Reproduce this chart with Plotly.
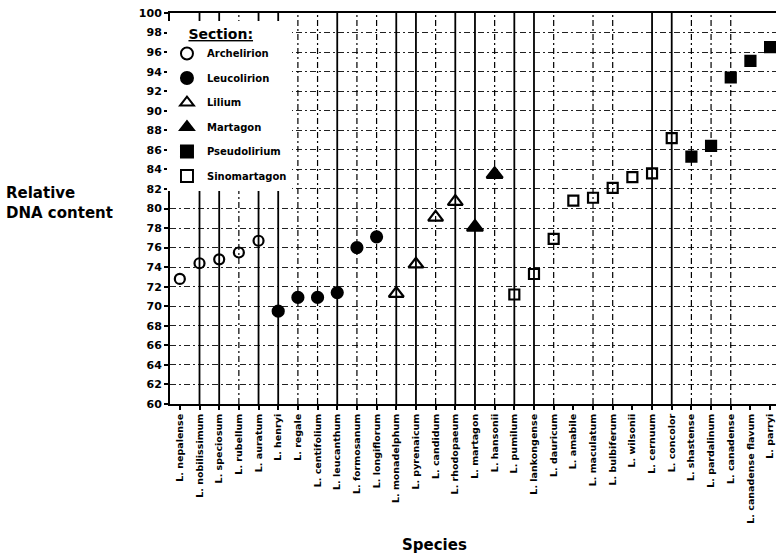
import plotly.graph_objects as go

species = ["L. nepalense", "L. nobilissimum", "L. speciosum", "L. rubellum", "L. auratum",
           "L. henryi", "L. regale", "L. centifolium", "L. leucanthum", "L. formosanum",
           "L. longiflorum", "L. monadelphum", "L. pyrenaicum", "L. candidum", "L. rhodopaeum",
           "L. martagon", "L. hansonii", "L. pumilum", "L. lankongense", "L. dauricum",
           "L. amabile", "L. maculatum", "L. bulbiferum", "L. wilsonii", "L. cernuum",
           "L. concolor", "L. shastense", "L. pardalinum", "L. canadense", "L. canadense flavum",
           "L. parryi"]
dna = [72.8, 74.4, 74.8, 75.5, 76.7,
       69.5, 70.9, 70.9, 71.4, 76.0,
       77.1, 71.3, 74.3, 79.1, 80.7,
       78.1, 83.5, 71.2, 73.3, 76.9,
       80.8, 81.1, 82.1, 83.2, 83.6,
       87.2, 85.3, 86.4, 93.4, 95.1,
       96.5]
section = (["Archelirion"] * 5 + ["Leucolirion"] * 6 + ["Lilium"] * 4 + ["Martagon"] * 2
           + ["Sinomartagon"] * 9 + ["Pseudolirium"] * 5)
sections = ["Archelirion", "Leucolirion", "Lilium", "Martagon", "Pseudolirium", "Sinomartagon"]
y_ticks = list(range(60, 101, 2))

# style of the vertical guide line at each species
vline_style = ["none", "solid", "solid", "dash", "solid",
               "solid", "dash", "dash", "solid", "dash",
               "dash", "solid", "solid", "dash", "solid",
               "solid", "dash", "solid", "solid", "dash",
               "none", "dash", "dash", "none", "solid",
               "solid", "dash", "dash", "dash", "none",
               "none"]
symbols = {"Archelirion": "circle-open", "Leucolirion": "circle", "Lilium": "triangle-up-open",
           "Martagon": "triangle-up", "Pseudolirium": "square", "Sinomartagon": "square-open"}
sizes = {"Archelirion": 10, "Leucolirion": 11, "Lilium": 13, "Martagon": 14,
         "Pseudolirium": 10, "Sinomartagon": 10}

BOLD = "DejaVu Sans"
fig = go.Figure()

for style, dash in [("solid", "solid"), ("dash", "6px,3px,2px,3px")]:
    xs, ys = [], []
    for sp, st in zip(species, vline_style):
        if st == style:
            xs += [sp, sp, None]
            ys += [y_ticks[0], y_ticks[-1], None]
    fig.add_trace(go.Scatter(x=xs, y=ys, mode="lines", showlegend=False, hoverinfo="skip",
                             line=dict(color="black", width=1.8 if style == "solid" else 1.2, dash=dash)))

for sec in sections:
    xs = [s for s, g in zip(species, section) if g == sec]
    ys = [v for v, g in zip(dna, section) if g == sec]
    fig.add_trace(go.Scatter(x=xs, y=ys, mode="markers", name=sec, legendgroup=sec,
                             marker=dict(symbol=symbols[sec], size=sizes[sec], color="black",
                                         line=dict(color="black", width=2.2))))

fig.update_layout(
    width=776, height=557,
    margin=dict(l=170, r=0, t=13, b=153, autoexpand=False),
    paper_bgcolor="white", plot_bgcolor="white",
    font=dict(family=BOLD, color="black"),
    showlegend=True,
    legend=dict(x=-0.005, y=0.98, xanchor="left", yanchor="top", bgcolor="white",
                borderwidth=0, tracegroupgap=5.5, itemsizing="constant",
                font=dict(family=BOLD, size=10, weight="bold", color="black"),
                title=dict(text="\u00a0\u00a0\u00a0\u00a0<u>Section:</u>",
                           font=dict(family=BOLD, size=14, weight="bold", color="black"))),
    xaxis=dict(type="category", categoryorder="array", categoryarray=species, automargin=False,
               range=[-0.5, 30.3], showgrid=False, showline=True, linecolor="black", linewidth=2,
               mirror=True, ticks="outside", ticklen=4, tickcolor="black", tickwidth=1.5,
               tickangle=-90, tickfont=dict(family=BOLD, size=9.5, weight="bold", color="black"),
               zeroline=False),
    yaxis=dict(range=[60, 100], tickvals=y_ticks, showgrid=True, gridcolor="#222", gridwidth=1,
               automargin=False,
               griddash="6px,3px,2px,3px", showline=True, linecolor="black", linewidth=2,
               ticks="outside", ticklen=4, tickcolor="black", tickwidth=1.5,
               tickfont=dict(family=BOLD, size=11, weight="bold", color="black"), zeroline=False),
    annotations=[
        dict(text="Relative<br>DNA content", xref="paper", yref="paper", x=-0.274, y=0.513,
             xanchor="left", yanchor="middle", align="left", showarrow=False,
             font=dict(family=BOLD, size=15, weight="bold", color="black")),
        dict(text="Species", xref="paper", yref="paper", x=0.437, y=-0.361,
             xanchor="center", yanchor="middle", showarrow=False,
             font=dict(family=BOLD, size=15, weight="bold", color="black")),
    ],
)

fig.write_html("out.html", config={"displayModeBar": False},
               post_script="document.body.style.margin='0';document.body.style.overflow='hidden';")
